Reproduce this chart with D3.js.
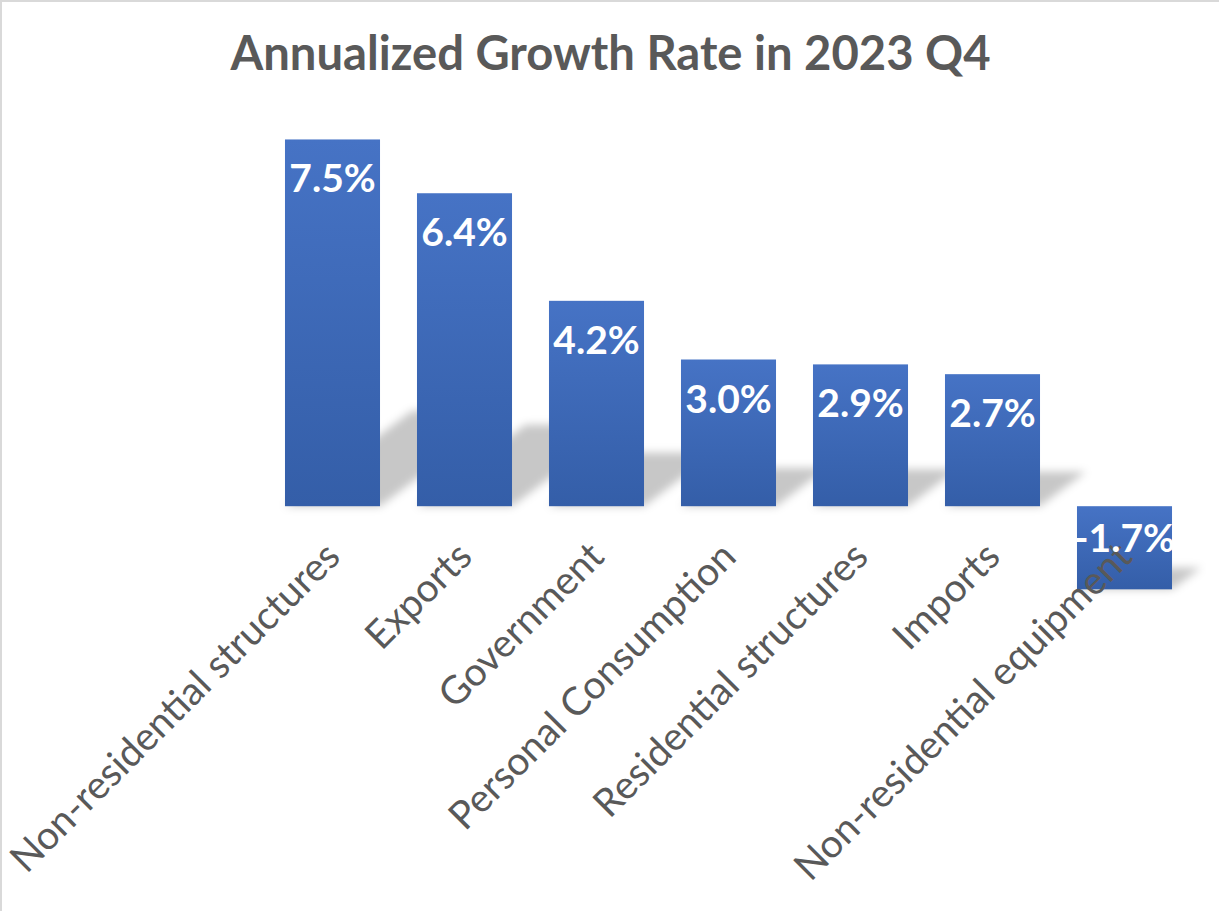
<!DOCTYPE html>
<html>
<head>
<meta charset="utf-8">
<script src="https://cdn.jsdelivr.net/npm/d3@7"></script>
<style>
  html, body { margin: 0; padding: 0; background: #ffffff; overflow: hidden; }
  svg { display: block; }
</style>
</head>
<body>
<svg id="chart" width="1219" height="911"></svg>
<script>
// Components of GDP and their annualized growth rate (%) in 2023 Q4
const categories = [
  "Non-residential structures",
  "Exports",
  "Government",
  "Personal Consumption",
  "Residential structures",
  "Imports",
  "Non-residential equipment"
];
const growthRates = [7.5, 6.4, 4.2, 3.0, 2.9, 2.7, -1.7];
const valueDomain = [-2, 8];
const chartTitle = "Annualized Growth Rate in 2023 Q4";

const W = 1219, H = 911;
const svg = d3.select("#chart");

const x = d3.scaleBand()
  .domain(categories)
  .range([266.5, 1190.5])
  .paddingInner(0.28)
  .paddingOuter(0.14);

const y = d3.scaleLinear()
  .domain(valueDomain)
  .range([604, 115]);

const data = categories.map((c, i) => ({ cat: c, v: growthRates[i] }));

// defs: bar gradient and soft shadow blur
const defs = svg.append("defs");
const grad = defs.append("linearGradient")
  .attr("id", "barFill")
  .attr("x1", 0).attr("y1", 0).attr("x2", 0).attr("y2", 1);
grad.append("stop").attr("offset", "0%").attr("stop-color", "#4673c5");
grad.append("stop").attr("offset", "100%").attr("stop-color", "#345ea8");

defs.append("filter")
  .attr("id", "softShadow")
  .attr("x", "-30%").attr("y", "-30%").attr("width", "160%").attr("height", "160%")
  .append("feGaussianBlur")
  .attr("stdDeviation", 4.5);

// chart area background and frame
svg.append("rect")
  .attr("x", 1).attr("y", 1)
  .attr("width", W + 10).attr("height", H + 10)
  .attr("fill", "#ffffff")
  .attr("stroke", "#d9d9d9")
  .attr("stroke-width", 2);

// title
svg.append("text")
  .attr("x", 610.5)
  .attr("y", 70)
  .attr("text-anchor", "middle")
  .attr("font-family", "Lato, 'Open Sans', sans-serif")
  .attr("font-weight", "bold")
  .attr("font-size", 47.2)
  .attr("fill", "#595959")
  .text(chartTitle);

// perspective shadows cast up and to the right of each bar
const shadowRise = 0.26;   // shadow height relative to bar height
const shadowSlope = 0.75;  // vertical/horizontal slant of the shadow
const y0 = y(0);
svg.append("g")
  .attr("filter", "url(#softShadow)")
  .selectAll("path")
  .data(data)
  .join("path")
  .attr("fill", "#000000")
  .attr("fill-opacity", 0.22)
  .attr("d", d => {
    const left = x(d.cat), right = left + x.bandwidth();
    const base = d.v >= 0 ? y0 : y(d.v);
    const h = Math.abs(y(d.v) - y0) * shadowRise;
    const dx = h / shadowSlope;
    return `M${left},${base}L${right},${base}L${right + dx},${base - h}L${left + dx},${base - h}Z`;
  });

// bars
svg.append("g")
  .selectAll("rect")
  .data(data)
  .join("rect")
  .attr("x", d => x(d.cat))
  .attr("width", x.bandwidth())
  .attr("y", d => Math.min(y(d.v), y0))
  .attr("height", d => Math.abs(y(d.v) - y0))
  .attr("fill", "url(#barFill)");

// category labels, rotated, hanging below the zero line
const xAxis = d3.axisBottom(x).tickSize(0).tickPadding(0);
const axisG = svg.append("g")
  .attr("transform", `translate(0,${y0})`)
  .call(xAxis);
axisG.select(".domain").remove();
axisG.selectAll(".tick text")
  .attr("font-family", "Lato, 'Open Sans', sans-serif")
  .attr("font-size", 39)
  .attr("fill", "#595959")
  .attr("text-anchor", "end")
  .attr("dy", "0.35em")
  .attr("transform", "translate(0,43) rotate(-45)");

// value labels inside the bar ends
svg.append("g")
  .selectAll("text")
  .data(data)
  .join("text")
  .attr("x", d => x(d.cat) + x.bandwidth() / 2)
  .attr("y", d => d.v >= 0 ? y(d.v) + 53 : y(d.v) - 37)
  .attr("text-anchor", "middle")
  .attr("font-family", "Lato, 'Open Sans', sans-serif")
  .attr("font-weight", "bold")
  .attr("font-size", 39)
  .attr("fill", "#ffffff")
  .text(d => d.v.toFixed(1) + "%");
</script>
</body>
</html>
